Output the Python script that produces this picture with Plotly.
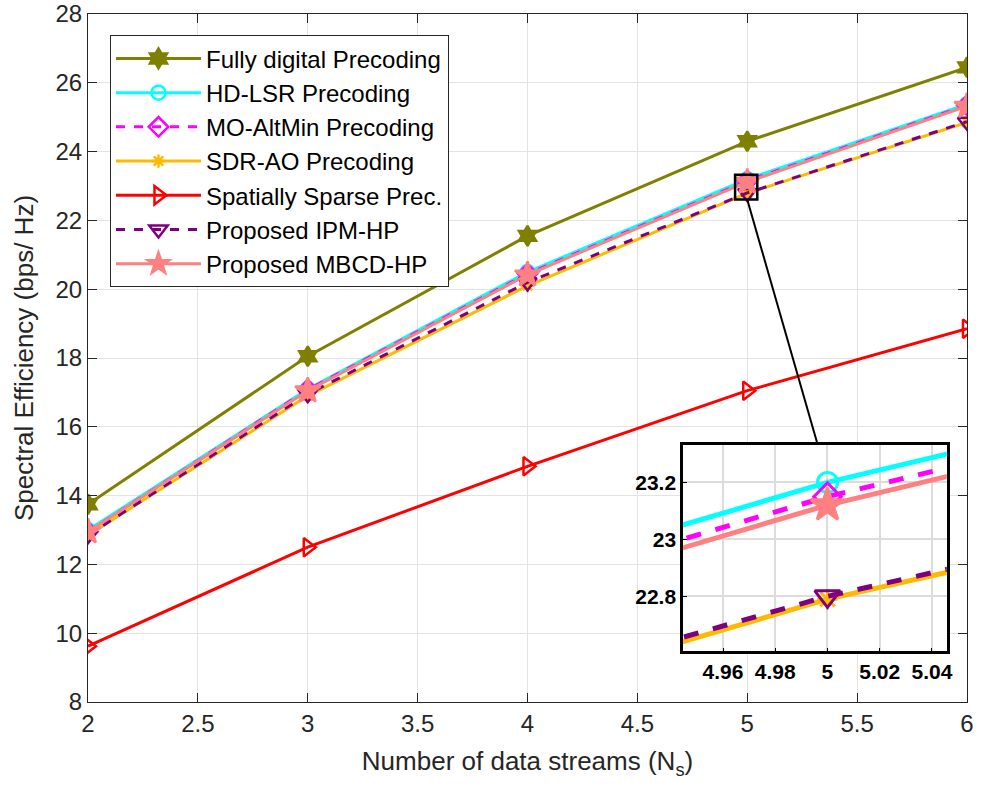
import plotly.graph_objects as go

# ---- data ----
streams = [2, 3, 4, 5, 6]
fully_digital = [13.75, 18.05, 21.55, 24.3, 26.45]
hd_lsr = [13.0, 17.1, 20.5, 23.2, 25.38]
mo_altmin = [12.95, 17.08, 20.45, 23.15, 25.35]
sdr_ao = [12.85, 16.9, 20.1, 22.79, 24.85]
spatially_sparse = [9.62, 12.5, 14.85, 17.05, 18.85]
ipm_hp = [12.85, 16.95, 20.2, 22.8, 24.87]
mbcd_hp = [12.95, 17.05, 20.42, 23.12, 25.32]

names = ["Fully digital Precoding", "HD-LSR Precoding", "MO-AltMin Precoding",
         "SDR-AO Precoding", "Spatially Sparse Prec.", "Proposed IPM-HP", "Proposed MBCD-HP"]
series = [fully_digital, hd_lsr, mo_altmin, sdr_ao, spatially_sparse, ipm_hp, mbcd_hp]
colors = ["#808000", "#00FFFF", "#FF00FF", "#FFB900", "#FF0000", "#7E0080", "#FF8080"]
symbols = ["hexagram", "circle-open", "diamond-open", "asterisk-open", "triangle-right-open",
           "triangle-down-open", "star"]
dashes = ["solid", "solid", "dash", "solid", "solid", "dash", "solid"]
msizes = [15, 14, 15, 11, 16, 16, 19]

x_ticks = [2, 2.5, 3, 3.5, 4, 4.5, 5, 5.5, 6]
y_ticks = [8, 10, 12, 14, 16, 18, 20, 22, 24, 26, 28]
inset_x_range = [4.9447, 5.0457]
inset_y_range = [22.607, 23.33]
inset_x_ticks = [4.96, 4.98, 5, 5.02, 5.04]
inset_y_ticks = [22.8, 23, 23.2]
connector_end = [5.32, 15.49]

FONT = "Liberation Sans, Arial, Helvetica"

fig = go.Figure()
for i, (nm, ys) in enumerate(zip(names, series)):
    fig.add_trace(go.Scatter(
        x=streams, y=ys, name=nm, mode="lines+markers",
        line=dict(color=colors[i], width=3, dash=dashes[i]),
        marker=dict(symbol=symbols[i], size=msizes[i], color=colors[i],
                    line=dict(color=colors[i], width=2.5)),
        legendgroup=nm, xaxis="x", yaxis="y"))
for i, (nm, ys) in enumerate(zip(names, series)):
    if i == 4:
        continue
    fig.add_trace(go.Scatter(
        x=streams, y=ys, name=nm, mode="lines+markers", showlegend=False,
        line=dict(color=colors[i], width=5, dash=dashes[i]),
        marker=dict(symbol=symbols[i], size=msizes[i] + 6, color=colors[i],
                    line=dict(color=colors[i], width=3)),
        legendgroup=nm, xaxis="x2", yaxis="y2"))

# zoom box and connector
fig.add_shape(type="rect", xref="x", yref="y",
              x0=inset_x_range[0], x1=inset_x_range[1], y0=inset_y_range[0], y1=inset_y_range[1],
              line=dict(color="black", width=2.5))
fig.add_shape(type="line", xref="x", yref="y",
              x0=5.0, y0=inset_y_range[0], x1=connector_end[0], y1=connector_end[1],
              line=dict(color="black", width=2))

axis_common = dict(showline=True, linecolor="#262626", linewidth=1, mirror="ticks",
                   ticks="inside", ticklen=9, tickcolor="#262626",
                   showgrid=True, gridcolor="#E3E3E3", gridwidth=1, zeroline=False,
                   ticklabeloverflow="allow", automargin=False,
                   tickfont=dict(family=FONT, size=24, color="#262626"))

inset_common = dict(showline=True, linecolor="black", linewidth=2.5, mirror=True,
                    ticks="inside", ticklen=4, tickcolor="black",
                    showgrid=True, gridcolor="#DCDCDC", gridwidth=2, zeroline=False,
                    automargin=False,
                    tickfont=dict(family=FONT, size=21, color="black", weight="bold"))

fig.update_layout(
    width=983, height=793,
    margin=dict(l=88, r=16, t=14, b=91, autoexpand=False),
    paper_bgcolor="white", plot_bgcolor="white",
    font=dict(family=FONT, color="#262626"),
    xaxis=dict(range=[1.9999, 6.0001], tickvals=x_ticks, ticktext=[f"{v:g}" for v in x_ticks],
               domain=[0, 1],
               title=dict(text="Number of data streams (N<sub>s</sub>)",
                          font=dict(family=FONT, size=26, color="#262626"), standoff=16),
               **axis_common),
    yaxis=dict(range=[7.999, 28.001], tickvals=y_ticks, domain=[0, 1],
               title=dict(text="Spectral Efficiency (bps/ Hz)",
                          font=dict(family=FONT, size=26, color="#262626"), standoff=14),
               **axis_common),
    xaxis2=dict(range=inset_x_range, tickvals=inset_x_ticks, ticktext=[f"{v:g}" for v in inset_x_ticks],
                domain=[0.677, 0.977], anchor="y2", **inset_common),
    yaxis2=dict(range=inset_y_range, tickvals=inset_y_ticks, ticktext=[f"{v:g}" for v in inset_y_ticks],
                domain=[0.0737, 0.373], anchor="x2", **inset_common),
    legend=dict(x=0.025, y=0.969, xanchor="left", yanchor="top",
                bgcolor="white", bordercolor="#262626", borderwidth=1,
                font=dict(family=FONT, size=24, color="black"),
                tracegroupgap=0, itemwidth=85),
    showlegend=True,
)
# white background for inset
fig.add_shape(type="rect", xref="x2 domain", yref="y2 domain", x0=0, x1=1, y0=0, y1=1,
              fillcolor="white", line=dict(width=0), layer="below")

fig.write_html("out.html")
